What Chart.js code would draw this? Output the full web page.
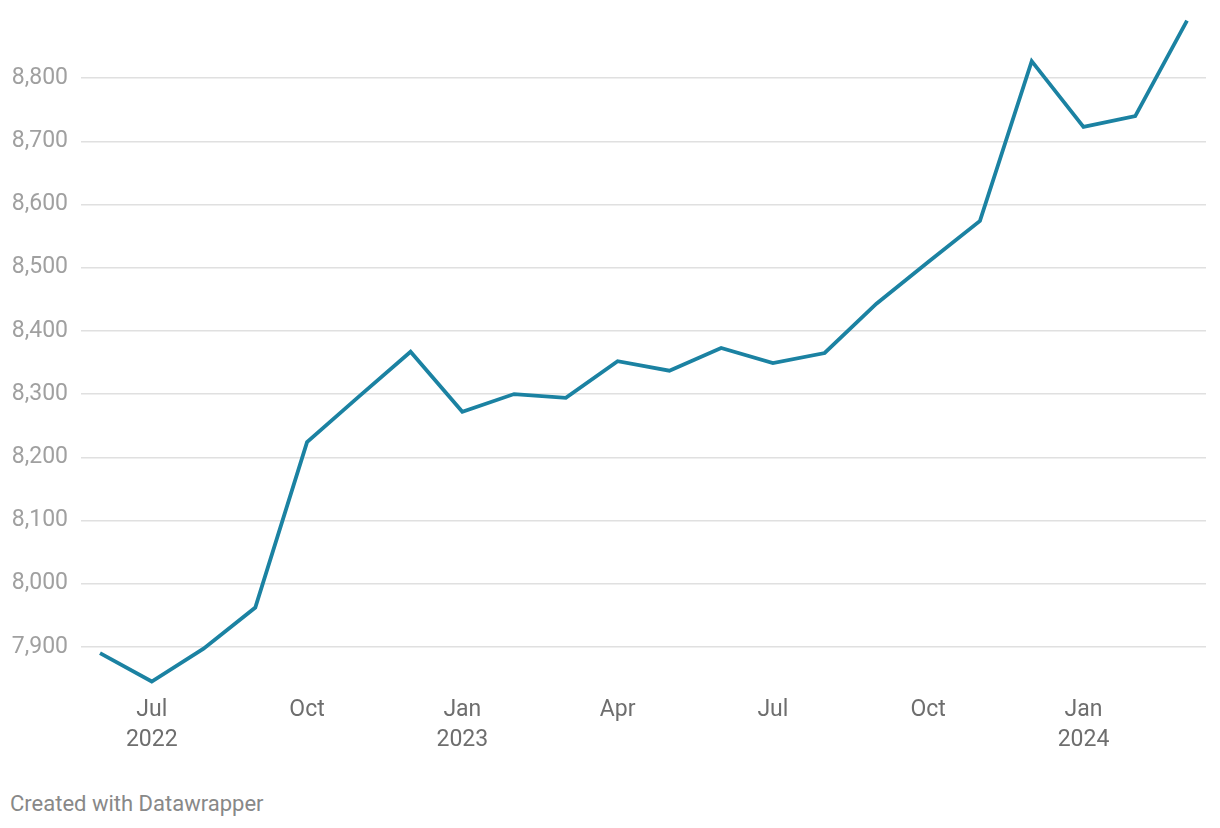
<!DOCTYPE html>
<html>
<head>
<meta charset="utf-8">
<script src="https://cdn.jsdelivr.net/npm/chart.js@4/dist/chart.umd.min.js"></script>
<style>
  html, body { margin: 0; padding: 0; background: #fff; }
  body { width: 1220px; height: 828px; position: relative; overflow: hidden; font-family: Roboto, sans-serif; }
  #wrap { position: absolute; left: 0; top: 0; width: 1220px; height: 770px; }
  #credit { position: absolute; left: 10px; top: 790px; font-size: 22px; color: #888; line-height: 28px; }
</style>
</head>
<body>
<div id="wrap"><canvas id="chart"></canvas></div>
<div id="credit">Created with Datawrapper</div>
<script>
// monthly, Jun 2022 .. Mar 2024
const months = ['Jun 2022', 'Jul 2022', 'Aug 2022', 'Sep 2022', 'Oct 2022', 'Nov 2022', 'Dec 2022',
  'Jan 2023', 'Feb 2023', 'Mar 2023', 'Apr 2023', 'May 2023', 'Jun 2023', 'Jul 2023', 'Aug 2023',
  'Sep 2023', 'Oct 2023', 'Nov 2023', 'Dec 2023', 'Jan 2024', 'Feb 2024', 'Mar 2024'];
const values = [7890, 7845, 7897, 7962, 8224, 8296, 8367, 8272, 8300, 8294, 8352, 8337, 8373, 8349,
  8365, 8443, 8509, 8574, 8827, 8723, 8740, 8891];

// x tick positions (month index) and their two-line labels
const xTickIdx = [1, 4, 7, 10, 13, 16, 19];
const xTickLabels = [['Jul', '2022'], 'Oct', ['Jan', '2023'], 'Apr', 'Jul', 'Oct', ['Jan', '2024']];
const yTicks = [7900, 8000, 8100, 8200, 8300, 8400, 8500, 8600, 8700, 8800];

const points = values.map((v, i) => ({ x: i, y: v }));

new Chart(document.getElementById('chart'), {
  type: 'line',
  data: {
    datasets: [{
      label: 'value',
      data: points,
      borderColor: '#1b82a2',
      borderWidth: 3.8,
      pointRadius: 0,
      tension: 0,
      fill: false,
      clip: false
    }]
  },
  options: {
    responsive: true,
    maintainAspectRatio: false,
    animation: false,
    layout: { padding: { top: 15, right: 14, left: 0, bottom: 0 } },
    plugins: { legend: { display: false }, tooltip: { enabled: false } },
    scales: {
      x: {
        type: 'linear',
        min: -0.367,
        max: 21.367,
        grid: { display: false, drawTicks: false },
        border: { display: false },
        afterBuildTicks: s => { s.ticks = xTickIdx.map(v => ({ value: v })); },
        afterFit: s => { s.height = 79; s.paddingLeft = 0; s.paddingRight = 0; },
        ticks: {
          padding: 4,
          maxRotation: 0,
          autoSkip: false,
          color: '#6e6e6e',
          font: { family: 'Roboto', size: 23, lineHeight: 1.3 },
          callback: v => xTickLabels[xTickIdx.indexOf(v)]
        }
      },
      y: {
        min: 7830,
        max: 8900,
        grid: { color: '#e0e0e0', lineWidth: 1.4, drawTicks: false },
        border: { display: false },
        afterBuildTicks: s => { s.ticks = yTicks.map(v => ({ value: v })); },
        afterFit: s => { s.width = 81; s.paddingTop = 0; s.paddingBottom = 0; },
        ticks: {
          padding: 13,
          color: '#a0a0a0',
          font: { family: 'Roboto', size: 23 },
          callback: v => v.toLocaleString('en-US')
        }
      }
    }
  }
});
</script>
</body>
</html>
